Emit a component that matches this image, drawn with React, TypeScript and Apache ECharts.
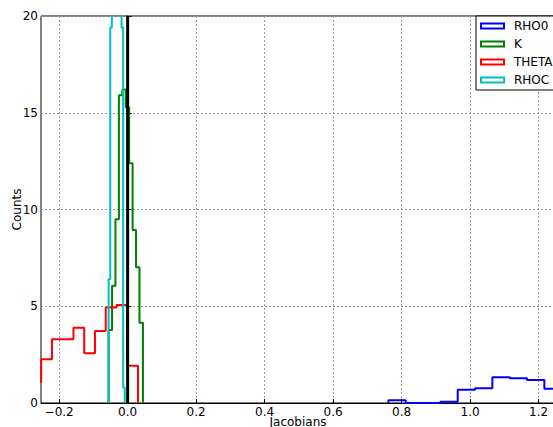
import React, { useEffect, useRef } from "react";
import * as echarts from "echarts";

// ---- data ----
const xTicks = [-0.2, 0.0, 0.2, 0.4, 0.6, 0.8, 1.0, 1.2];
const yTicks = [0, 5, 10, 15, 20];

const rho0Edges = [0.7615, 0.8121, 0.8627, 0.9133, 0.9639, 1.0145, 1.0651, 1.1157, 1.1663, 1.2169, 1.2675];
const rho0Counts = [0.14, 0, 0, 0.06, 0.69, 0.76, 1.33, 1.28, 1.19, 0.74];

const kEdges = [-0.0555, -0.0455, -0.0355, -0.0255, -0.0155, -0.0055, 0.0045, 0.0145, 0.0245, 0.0345, 0.0447];
const kCounts = [3.77, 6.06, 9.5, 15.9, 16.2, 15.28, 12.39, 8.94, 7.01, 4.15];

const thetaEdges = [-0.2838, -0.2524, -0.221, -0.1896, -0.1582, -0.1268, -0.0954, -0.064, -0.0326, -0.0012, 0.0302];
const thetaCounts = [1.1, 2.26, 3.29, 3.29, 3.89, 2.57, 3.72, 4.94, 5.06, 1.93];

const rhocEdges = [-0.0555, -0.0508, -0.0461, -0.0415, -0.0368, -0.0318, -0.0272, -0.0225, -0.0178, -0.0131, -0.0085];
const rhocCounts = [6.4, 19.4, 30, 45, 55, 50, 38, 26, 19.4, 0.8];

const refLineX = [0, 0];
const refLineY = [0, 20];

const seriesNames = ["RHO0", "K", "THETA", "RHOC"];
const seriesColors = ["#0000ff", "#008000", "#ff0000", "#00bfbf"];

function stepOutline(edges: number[], counts: number[]): number[][] {
  const pts: number[][] = [[edges[0], 0]];
  for (let i = 0; i < counts.length; i++) {
    pts.push([edges[i], counts[i]]);
    pts.push([edges[i + 1], counts[i]]);
  }
  pts.push([edges[edges.length - 1], 0]);
  return pts;
}

const FONT = "DejaVu Sans";

export default function App() {
  const ref = useRef<HTMLDivElement>(null);
  useEffect(() => {
    if (!ref.current) return;
    const chart = echarts.init(ref.current, null, { renderer: "svg" });
    const hist = [
      stepOutline(rho0Edges, rho0Counts),
      stepOutline(kEdges, kCounts),
      stepOutline(thetaEdges, thetaCounts),
      stepOutline(rhocEdges, rhocCounts),
    ];
    const fmt = (v: number) => (v < 0 ? "\u2212" : "") + Math.abs(v).toFixed(1);
    chart.setOption({
      animation: false,
      textStyle: { fontFamily: FONT },
      grid: {
        left: 41,
        top: 16,
        width: 514,
        height: 387,
        containLabel: false,
        outerBoundsMode: "none",
        show: true,
        borderColor: "#000",
        borderWidth: 1,
        backgroundColor: "transparent",
      },
      legend: {
        orient: "vertical",
        left: 476,
        top: 16,
        selectedMode: false,
        backgroundColor: "#fff",
        borderColor: "#000",
        borderWidth: 1,
        borderRadius: 0,
        padding: [3, 30, 3, 4],
        itemWidth: 23,
        itemHeight: 5,
        itemGap: 4,
        textStyle: { fontFamily: FONT, fontSize: 12, color: "#000", lineHeight: 14, padding: [0, 0, 0, 5] },
        data: seriesNames.map((n, i) => ({
          name: n,
          icon: "rect",
          itemStyle: { color: "#fff", borderColor: seriesColors[i], borderWidth: 2 },
        })),
      },
      xAxis: {
        type: "value",
        min: -0.253,
        max: 1.248,
        name: "Jacobians",
        nameLocation: "middle",
        nameGap: 13,
        nameMoveOverlap: false,
        nameTextStyle: { fontFamily: FONT, fontSize: 12, color: "#000" },
        axisLine: { show: true, onZero: false, lineStyle: { color: "#000", width: 1 } },
        axisTick: { show: true, inside: true, length: 4, customValues: xTicks, lineStyle: { color: "#000" } },
        axisLabel: { customValues: xTicks, formatter: fmt, fontFamily: FONT, fontSize: 12, color: "#000", margin: 3 },
        splitLine: { show: true, lineStyle: { color: "#999", type: [2, 2], width: 1 } },
      },
      yAxis: {
        type: "value",
        min: yTicks[0],
        max: yTicks[yTicks.length - 1],
        interval: 5,
        name: "Counts",
        nameLocation: "middle",
        nameGap: 18,
        nameMoveOverlap: false,
        nameTextStyle: { fontFamily: FONT, fontSize: 12, color: "#000" },
        axisLine: { show: true, lineStyle: { color: "#000", width: 1 } },
        axisTick: { show: true, inside: true, length: 4, lineStyle: { color: "#000" } },
        axisLabel: { fontFamily: FONT, fontSize: 12, color: "#000", margin: 3 },
        splitLine: { show: true, lineStyle: { color: "#999", type: [2, 2], width: 1 } },
      },
      series: [
        ...seriesNames.map((n, i) => ({
          name: n,
          type: "line",
          data: hist[i],
          symbol: "none",
          clip: true,
          silent: true,
          lineStyle: { color: seriesColors[i], width: 2 },
          itemStyle: { color: seriesColors[i] },
          emphasis: { disabled: true },
        })),
        {
          name: "zero",
          type: "line",
          data: refLineX.map((x, i) => [x, refLineY[i]]),
          symbol: "none",
          silent: true,
          lineStyle: { color: "#000", width: 3 },
          itemStyle: { color: "#000" },
          emphasis: { disabled: true },
        },
      ],
    });
    return () => chart.dispose();
  }, []);
  return (
    <div style={{ position: "fixed", left: 0, top: 0, width: 553, height: 427, overflow: "hidden", background: "#fff" }}>
      <div ref={ref} style={{ width: 620, height: 427 }} />
    </div>
  );
}
